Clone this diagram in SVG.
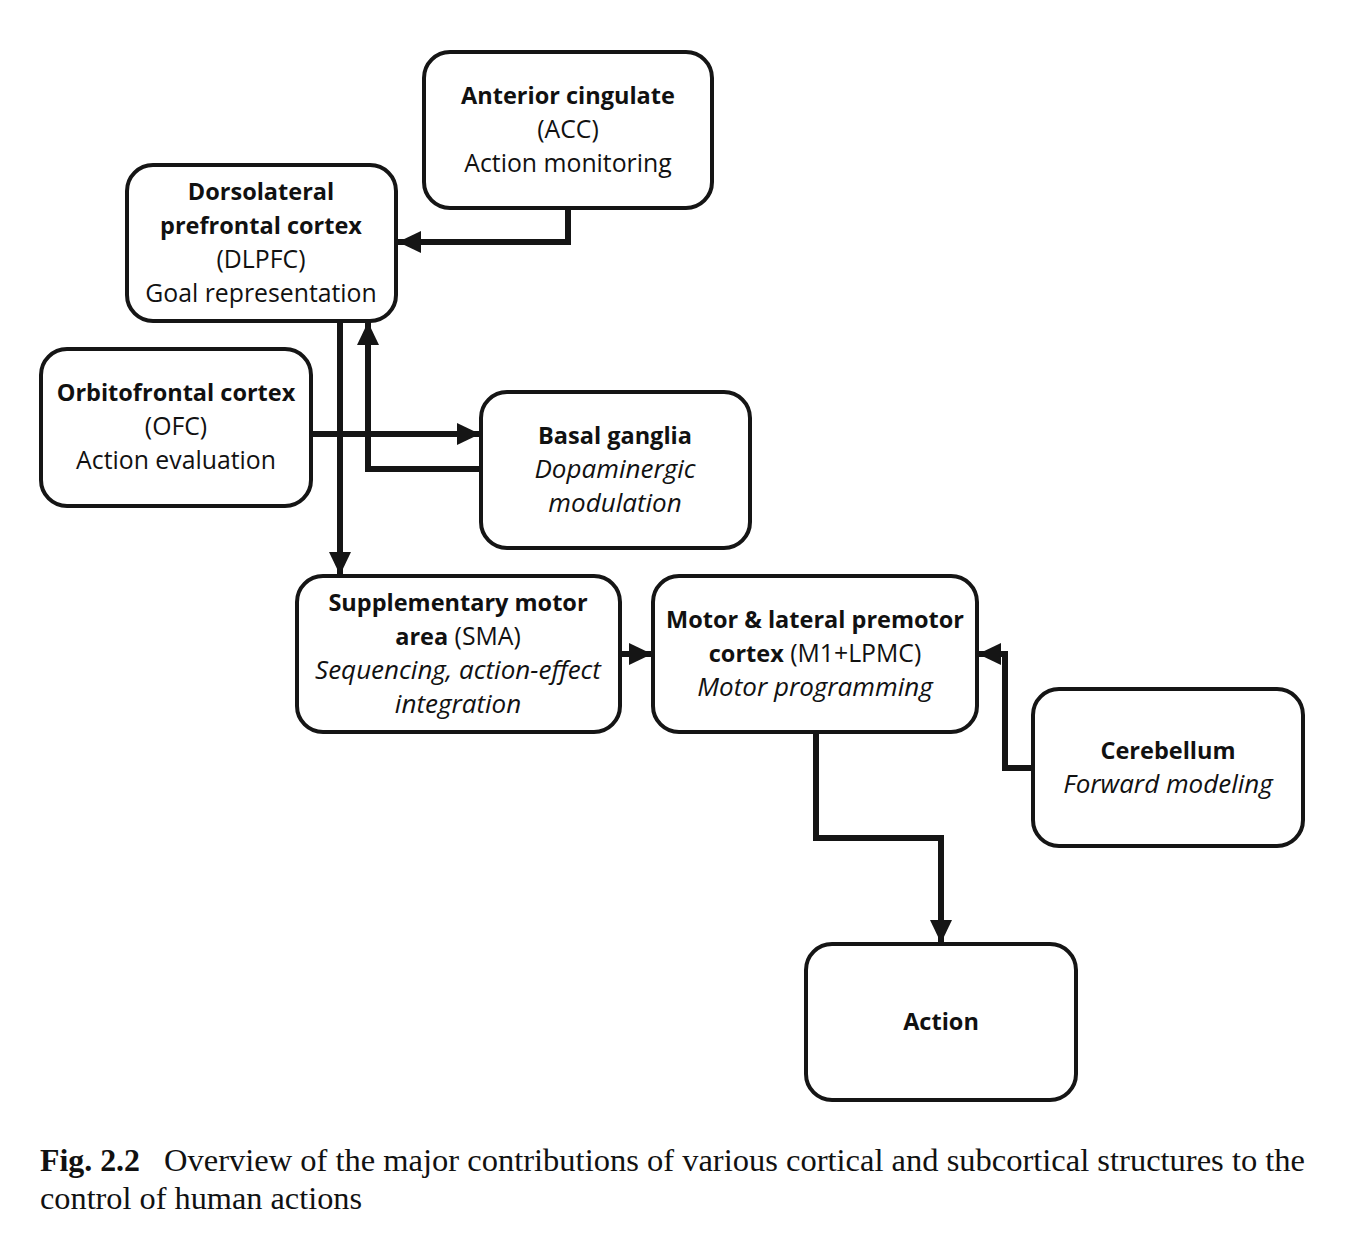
<svg xmlns="http://www.w3.org/2000/svg" width="1365" height="1240" viewBox="0 0 1365 1240">
<defs>
<marker id="ah" markerUnits="userSpaceOnUse" markerWidth="24" markerHeight="24" viewBox="0 0 24 24" refX="23" refY="12" orient="auto">
<path d="M0,1 L23,12 L0,23 z" fill="#151515"/>
</marker>
<style>
.box{fill:#fff;stroke:#151515;stroke-width:4}
.t{font-family:"Open Sans","DejaVu Sans",sans-serif;font-size:24.8px;fill:#111;text-anchor:middle}
.b{font-weight:bold;font-size:23.5px}
.i{font-style:italic;font-size:26px}
.c{fill:none;stroke:#151515;stroke-width:6;marker-end:url(#ah)}
.cap{font-family:"Liberation Serif","Times New Roman",serif;font-size:32px;fill:#111}
</style>
</defs>
<rect width="1365" height="1240" fill="#fff"/>
<g id="connectors">
<path class="c" d="M568,208 V242 H398"/>
<path class="c" d="M340,321 V575"/>
<path class="c" d="M481,469 H368 V322"/>
<path class="c" d="M311,434 H480"/>
<path class="c" d="M620,654 H652"/>
<path class="c" d="M816,732 V838 H941 V943"/>
<path class="c" d="M1033,768 H1005 V654 H978"/>
</g>
<g id="acc">
<rect class="box" x="424" y="52" width="288" height="156" rx="26"/>
<text class="t b" x="568" y="104">Anterior cingulate</text>
<text class="t" x="568" y="138">(ACC)</text>
<text class="t" x="568" y="172">Action monitoring</text>
</g>
<g id="dlpfc">
<rect class="box" x="127" y="165" width="269" height="156" rx="26"/>
<text class="t b" x="261" y="200">Dorsolateral</text>
<text class="t b" x="261" y="234">prefrontal cortex</text>
<text class="t" x="261" y="268">(DLPFC)</text>
<text class="t" x="261" y="302">Goal representation</text>
</g>
<g id="ofc">
<rect class="box" x="41" y="349" width="270" height="157" rx="26"/>
<text class="t b" x="176" y="401">Orbitofrontal cortex</text>
<text class="t" x="176" y="435">(OFC)</text>
<text class="t" x="176" y="469">Action evaluation</text>
</g>
<g id="basal-ganglia">
<rect class="box" x="481" y="392" width="269" height="156" rx="26"/>
<text class="t b" x="615" y="444">Basal ganglia</text>
<text class="t i" x="615" y="478">Dopaminergic</text>
<text class="t i" x="615" y="512">modulation</text>
</g>
<g id="sma">
<rect class="box" x="297" y="576" width="323" height="156" rx="26"/>
<text class="t b" x="458" y="611">Supplementary motor</text>
<text class="t" x="458" y="645"><tspan class="b">area</tspan> (SMA)</text>
<text class="t i" x="458" y="679">Sequencing, action-effect</text>
<text class="t i" x="458" y="713">integration</text>
</g>
<g id="motor">
<rect class="box" x="653" y="576" width="324" height="156" rx="26"/>
<text class="t b" x="815" y="628">Motor &amp; lateral premotor</text>
<text class="t" x="815" y="662"><tspan class="b">cortex</tspan> (M1+LPMC)</text>
<text class="t i" x="815" y="696">Motor programming</text>
</g>
<g id="cerebellum">
<rect class="box" x="1033" y="689" width="270" height="157" rx="26"/>
<text class="t b" x="1168" y="759">Cerebellum</text>
<text class="t i" x="1168" y="793">Forward modeling</text>
</g>
<g id="action">
<rect class="box" x="806" y="944" width="270" height="156" rx="26"/>
<text class="t b" x="941" y="1030">Action</text>
</g>
<g id="caption">
<text class="cap" x="40" y="1171" font-weight="bold" textLength="100" lengthAdjust="spacingAndGlyphs">Fig. 2.2</text>
<text class="cap" x="164" y="1171" textLength="1141" lengthAdjust="spacingAndGlyphs">Overview of the major contributions of various cortical and subcortical structures to the</text>
<text class="cap" x="40" y="1209" textLength="322" lengthAdjust="spacingAndGlyphs">control of human actions</text>
</g>
</svg>
